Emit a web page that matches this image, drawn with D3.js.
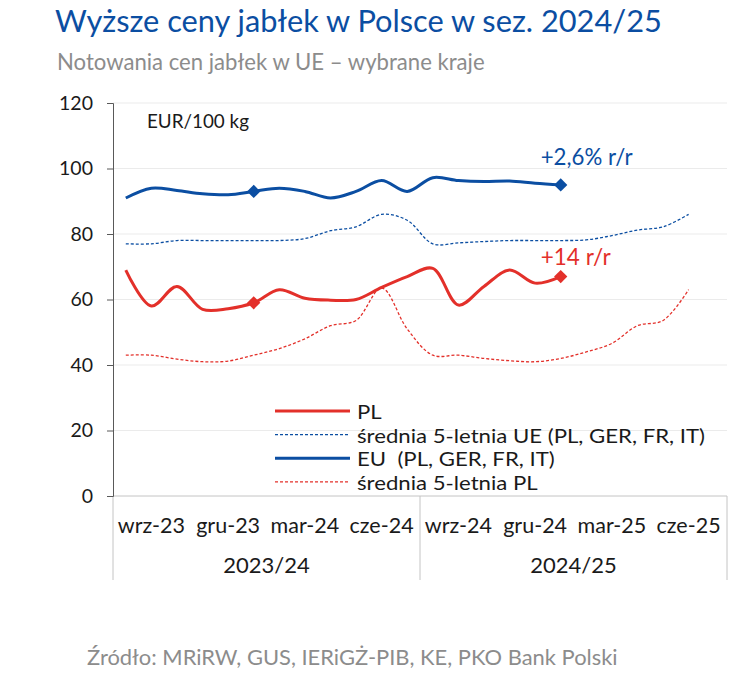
<!DOCTYPE html>
<html>
<head>
<meta charset="utf-8">
<script src="https://cdn.jsdelivr.net/npm/d3@7"></script>
<style>
  html, body { margin: 0; padding: 0; background: #fff; }
  svg { display: block; font-family: Lato, "Open Sans", sans-serif; }
  .pre { white-space: pre; }
</style>
</head>
<body>
<svg id="chart" width="754" height="691"></svg>
<script>
// ---------- data ----------
const months = ["sie-23","wrz-23","paź-23","lis-23","gru-23","sty-24","lut-24","mar-24","kwi-24","maj-24","cze-24","lip-24",
                "sie-24","wrz-24","paź-24","lis-24","gru-24","sty-25","lut-25","mar-25","kwi-25","maj-25","cze-25","lip-25"];
const tickLabels = ["wrz-23","gru-23","mar-24","cze-24","wrz-24","gru-24","mar-25","cze-25"];
const seasons = ["2023/24","2024/25"];
const seasonStart = ["sie-23","sie-24"];
const yTicks = [0,20,40,60,80,100,120];

const pl    = [69, 58, 64, 57, 57.2, 59, 63, 60.4, 59.8, 60, 63.7, 67, 69.5, 58.3, 64, 69, 65, 67];
const eu    = [91, 94, 93.3, 92.3, 92, 93, 94, 93, 91, 93, 96.3, 93, 97.2, 96.3, 96, 96.2, 95.5, 95];
const euAvg = [77, 77, 78, 78, 78, 78, 78, 78.6, 81, 82.2, 86, 84.2, 77, 77.3, 77.7, 78, 78, 78, 78.2, 79.5, 81.2, 82.2, 86];
const plAvg = [43, 43, 41.8, 41, 41.2, 43, 45, 48, 52, 53.6, 63.5, 51, 43, 43, 42, 41.3, 41, 42, 44, 46.6, 52, 53.6, 63];
const markerIdx = [5, 17];

const legendItems = ["PL", "średnia 5-letnia UE (PL, GER, FR, IT)", "EU  (PL, GER, FR, IT)", "średnia 5-letnia PL"];

// ---------- styles ----------
const BLUE = "#0b4ea2", RED = "#e3302a", GREY = "#8c8c8c", TXT = "#1a1a1a";
const seriesStyle = [
  {data: pl,    color: RED,  width: 3,   dash: null},
  {data: euAvg, color: BLUE, width: 1.3, dash: "3,2"},
  {data: eu,    color: BLUE, width: 3,   dash: null},
  {data: plAvg, color: RED,  width: 1.3, dash: "3,2"}
];

const svg = d3.select("#chart");
const L = 113, R = 727, T = 103, B = 496;

const x = d3.scaleBand().domain(months).range([L, R]).padding(0);
const y = d3.scaleLinear().domain([0, 120]).range([B, T]);
const cx = i => x(months[i]) + x.bandwidth() / 2;

function fit(sel, w) {
  const cur = sel.node().getComputedTextLength();
  const fs = parseFloat(sel.attr("font-size"));
  sel.attr("font-size", (fs * w / cur).toFixed(2));
  return sel;
}

// title
fit(svg.append("text").attr("x", 55).attr("y", 32).attr("font-size", 30).attr("fill", BLUE)
  .text("Wyższe ceny jabłek w Polsce w sez. 2024/25"), 607);
fit(svg.append("text").attr("x", 57).attr("y", 70).attr("font-size", 19).attr("fill", GREY)
  .text("Notowania cen jabłek w UE – wybrane kraje"), 428);

// gridlines
svg.append("g").selectAll("line").data(yTicks.filter(d => d > 0)).join("line")
  .attr("x1", L).attr("x2", R).attr("y1", d => y(d)).attr("y2", d => y(d))
  .attr("stroke", "#ebebeb").attr("stroke-width", 1);

// x axis baseline
svg.append("line").attr("x1", L).attr("x2", R).attr("y1", B).attr("y2", B)
  .attr("stroke", "#c4c4c4").attr("stroke-width", 1);

// group separators
const sepX = seasonStart.map(m => x(m)).concat([R]);
svg.append("g").selectAll("line").data(sepX).join("line")
  .attr("x1", d => d).attr("x2", d => d).attr("y1", B).attr("y2", 580)
  .attr("stroke", "#c4c4c4").attr("stroke-width", 1);

// x tick labels
const xAxis = d3.axisBottom(x).tickValues(tickLabels).tickSize(0).tickPadding(0);
const gx = svg.append("g").attr("transform", `translate(0,${B})`).call(xAxis);
gx.select(".domain").remove();
gx.selectAll("text").attr("font-size", 21.5).attr("fill", TXT).attr("dy", null).attr("y", 37)
  .attr("font-family", "Lato, sans-serif");

// season labels
svg.append("g").selectAll("text").data(seasons).join("text")
  .attr("x", (d, i) => (sepX[i] + sepX[i + 1]) / 2).attr("y", 573)
  .attr("text-anchor", "middle").attr("font-size", 22).attr("fill", TXT).text(d => d);

// y axis
const yAxis = d3.axisLeft(y).tickValues(yTicks).tickSize(6).tickPadding(14);
const gy = svg.append("g").attr("transform", `translate(${L},0)`).call(yAxis);
gy.select(".domain").attr("stroke", "#595959");
gy.selectAll(".tick line").attr("stroke", "#595959");
gy.selectAll("text").attr("font-size", 19.5).attr("fill", TXT).attr("font-family", "Lato, sans-serif");

// unit label
fit(svg.append("text").attr("x", 147).attr("y", 128).attr("font-size", 18).attr("fill", TXT)
  .text("EUR/100 kg"), 102);

// lines
const line = d3.line().x((d, i) => cx(i)).y(d => y(d)).curve(d3.curveCatmullRom.alpha(0.5));
const drawOrder = [3, 1, 2, 0];
drawOrder.forEach(k => {
  const s = seriesStyle[k];
  svg.append("path").attr("d", line(s.data)).attr("fill", "none")
    .attr("stroke", s.color).attr("stroke-width", s.width)
    .attr("stroke-dasharray", s.dash).attr("stroke-linejoin", "round");
});

// diamonds
const diamond = d3.symbol().type(d3.symbolSquare).size(88);
[{data: eu, color: BLUE}, {data: pl, color: RED}].forEach(s => {
  svg.append("g").selectAll("path").data(markerIdx).join("path")
    .attr("d", diamond)
    .attr("transform", i => `translate(${cx(i)},${y(s.data[i])}) rotate(45)`)
    .attr("fill", s.color);
});

// annotations
const lastEu = eu.length - 1, lastPl = pl.length - 1;
fit(svg.append("text").attr("x", cx(lastEu) - 20).attr("y", y(eu[lastEu]) - 20)
  .attr("font-size", 20).attr("fill", BLUE).text("+2,6% r/r"), 92);
fit(svg.append("text").attr("x", cx(lastPl) - 20).attr("y", y(pl[lastPl]) - 12)
  .attr("font-size", 20).attr("fill", RED).text("+14 r/r"), 70);

// legend
const lg = svg.append("g");
const rowY = i => 411 + i * 23.6;
legendItems.forEach((t, i) => {
  const s = seriesStyle[i];
  lg.append("line").attr("x1", 275).attr("x2", 350).attr("y1", rowY(i)).attr("y2", rowY(i))
    .attr("stroke", s.color).attr("stroke-width", s.width).attr("stroke-dasharray", s.dash);
});
const lt = lg.selectAll("text.lt").data(legendItems).join("text").attr("class", "lt pre")
  .attr("x", 357).attr("y", (d, i) => rowY(i) + 8)
  .attr("font-size", 19).attr("fill", TXT).text(d => d);
{
  const widths = lt.nodes().map(n => n.getComputedTextLength());
  const k = 348 / widths[1];
  lt.attr("textLength", (d, i) => (widths[i] * k).toFixed(1)).attr("lengthAdjust", "spacingAndGlyphs");
}

// source
fit(svg.append("text").attr("x", 87).attr("y", 665).attr("font-size", 19).attr("fill", GREY)
  .text("Źródło: MRiRW, GUS, IERiGŻ-PIB, KE, PKO Bank Polski"), 531);
</script>
</body>
</html>
